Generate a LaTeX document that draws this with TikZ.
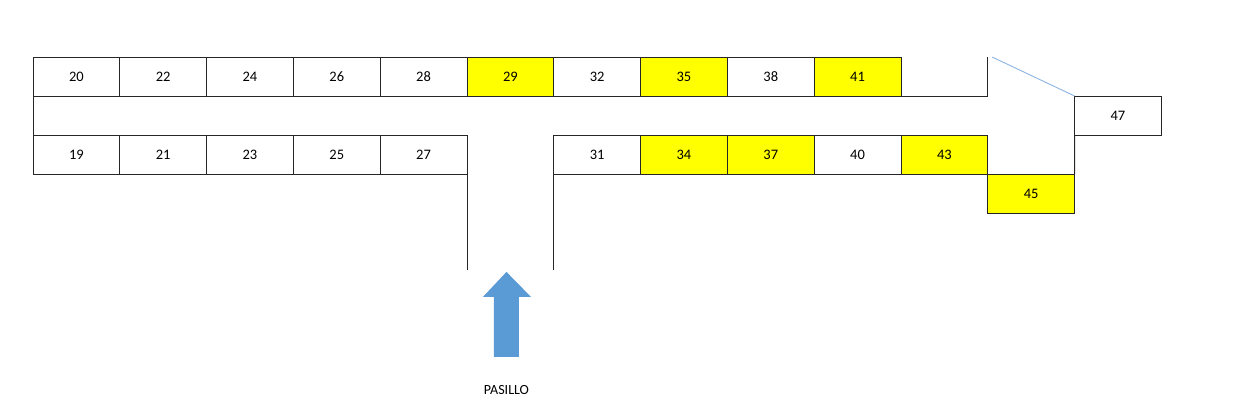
\documentclass[tikz,border=0pt]{standalone}
\usepackage{fontspec}
\setmainfont{Carlito}
\definecolor{cellyellow}{RGB}{255,255,0}
\definecolor{arrowblue}{RGB}{91,155,213}
\definecolor{lineblue}{RGB}{140,180,225}

\begin{document}
\begin{tikzpicture}[x=86.8pt, y=39pt, line width=0.9pt,
	cell/.style={draw=black!85, minimum width=86.8pt, minimum height=39pt, inner sep=0pt, outer sep=0pt, font=\fontsize{14.5}{17}\selectfont},
	hl/.style={cell, fill=cellyellow}]
	\useasboundingbox (-0.38,-6.03) rectangle (14.044,4.462);
	% upper row
	\foreach \n/\x in {20/0,22/1,24/2,26/3,28/4,32/6,38/8} \node[cell] (c\n) at (\x+0.5,2.5) {\n};
	\foreach \n/\x in {29/5,35/7,41/9} \node[hl] (c\n) at (\x+0.5,2.5) {\n};
	% lower row
	\foreach \n/\x in {19/0,21/1,23/2,25/3,27/4,31/6,40/9} \node[cell] (c\n) at (\x+0.5,0.5) {\n};
	\foreach \n/\x in {34/7,37/8,43/10} \node[hl] (c\n) at (\x+0.5,0.5) {\n};
	\node[hl] (c45) at (11.5,-0.5) {45};
	\node[cell] (c47) at (12.5,1.5) {47};
	% walls
	\draw[black!85] (c20.south west) -- (c19.north west);
	\draw[black!85] (c41.south east) -- (11,2) -- (11,3);
	\draw[lineblue] (11.05,3) -- (c47.north west);
	\draw[black!85] (c47.south west) -- (c45.north east);
	\draw[black!85] (c27.south east) -- (5,-2.46);
	\draw[black!85] (c31.south west) -- (6,-2.46);
	% entrance
	\fill[arrowblue] (5.311,-4.69) -- (5.311,-3.15) -- (5.184,-3.15) -- (5.455,-2.51) -- (5.737,-3.15) -- (5.599,-3.15) -- (5.599,-4.69) -- cycle;
	\node[font=\fontsize{14}{17}\selectfont] (pasillo) at (5.455,-5.54) {PASILLO};
\end{tikzpicture}
\end{document}
